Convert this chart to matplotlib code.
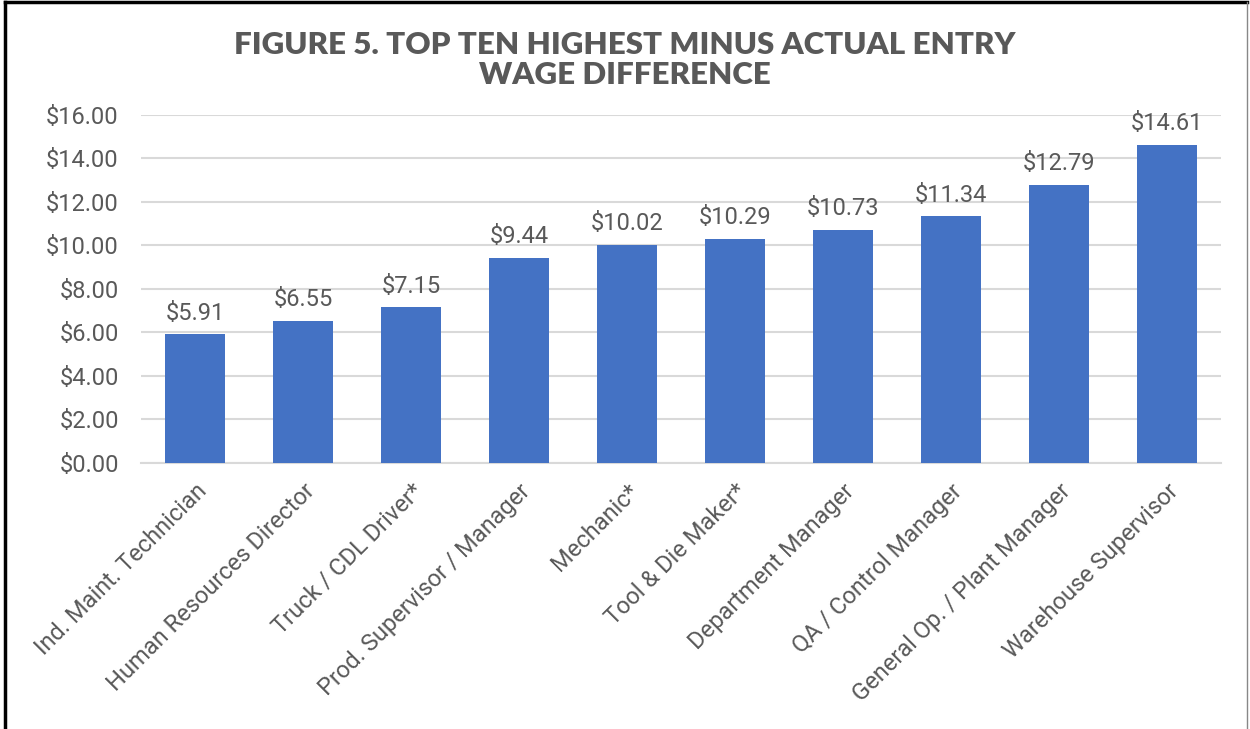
import numpy as np
import matplotlib.pyplot as plt
from matplotlib.lines import Line2D

# categories and wage differences ($/hr)
jobs = ['Ind. Maint. Technician', 'Human Resources Director', 'Truck / CDL Driver*',
        'Prod. Supervisor / Manager', 'Mechanic*', 'Tool & Die Maker*', 'Department Manager',
        'QA / Control Manager', 'General Op. / Plant Manager', 'Warehouse Supervisor']
diffs = [5.91, 6.55, 7.15, 9.44, 10.02, 10.29, 10.73, 11.34, 12.79, 14.61]
yticks = [0, 2, 4, 6, 8, 10, 12, 14, 16]

txt = '#595959'
W, H = 1250, 729

fig = plt.figure(figsize=(W / 100, H / 100), dpi=100)
ax = fig.add_axes([141 / W, 1 - 463 / H, (1221 - 141) / W, (463 - 115) / H])

x = np.arange(len(jobs))
bars = ax.bar(x, diffs, width=0.556, color='#4472c4', zorder=3)
for b, v in zip(bars, diffs):
    ax.text(b.get_x() + b.get_width() / 2, v + 0.45, f'${v:.2f}', ha='center', va='bottom',
            fontsize=17, color=txt, family='Roboto')

ax.set_xlim(-0.5, len(jobs) - 0.5)
ax.set_ylim(0, 16)
ax.set_yticks(yticks)
ax.set_yticklabels([f'${t:.2f}' for t in yticks], family='Roboto', fontsize=17, color=txt)
ax.set_xticks(x)
ax.set_xticklabels(jobs, rotation=45, ha='right', rotation_mode='anchor',
                   family='Roboto', fontsize=17, color=txt)
ax.tick_params(axis='both', length=0)
ax.tick_params(axis='y', pad=16)
ax.tick_params(axis='x', pad=12)
ax.grid(axis='y', color='#d9d9d9', linewidth=1.5, zorder=0)
for s in ['top', 'right', 'left']:
    ax.spines[s].set_visible(False)
ax.spines['bottom'].set_color('#d9d9d9')
ax.spines['bottom'].set_linewidth(1.5)

fig.text(0.5, 1 - 60 / H, 'FIGURE 5. TOP TEN HIGHEST MINUS ACTUAL ENTRY\nWAGE DIFFERENCE',
         ha='center', va='center', fontsize=22.5, fontweight='heavy', color=txt,
         family='Lato', linespacing=1.05)

# frame around the figure
fig.add_artist(Line2D([5 / W, 5 / W], [0, 1 - 2 / H], color='black', linewidth=2.5))
fig.add_artist(Line2D([5 / W, 1247 / W], [1 - 2 / H, 1 - 2 / H], color='black', linewidth=2.5))
fig.add_artist(Line2D([1247 / W, 1247 / W], [0, 1 - 2 / H], color='#888888', linewidth=1))

fig.savefig('out.png', dpi=100)
